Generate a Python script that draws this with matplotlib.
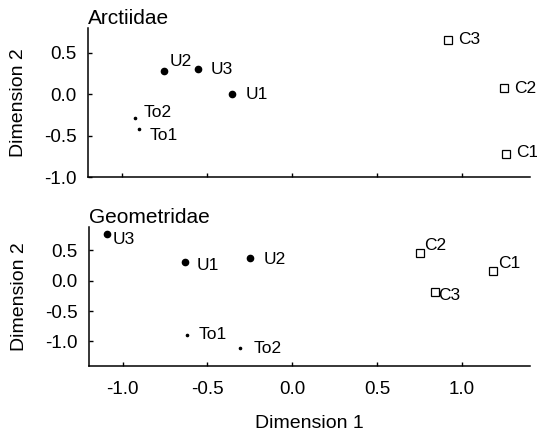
import matplotlib
matplotlib.use("Agg")
import matplotlib.pyplot as plt

plt.rcParams['font.family'] = ['Liberation Sans', 'DejaVu Sans']

# Arctiidae
arc_names = ["U2", "U3", "U1", "To2", "To1", "C3", "C2", "C1"]
arc_x = [-0.75, -0.55, -0.35, -0.92, -0.90, 0.92, 1.25, 1.26]
arc_y = [0.28, 0.30, 0.00, -0.29, -0.42, 0.66, 0.07, -0.72]

# Geometridae
geo_names = ["U3", "U1", "U2", "To1", "To2", "C2", "C1", "C3"]
geo_x = [-1.09, -0.63, -0.25, -0.62, -0.31, 0.75, 1.18, 0.84]
geo_y = [0.77, 0.31, 0.37, -0.90, -1.10, 0.46, 0.16, -0.19]

# label offsets in points (dx, dy)
arc_off = [(4, 7), (9, 0), (10, 0), (6, 4), (8, -5), (7, 0), (7, 0), (7, 1)]
geo_off = [(4, -4), (8, -3), (10, -1), (8, 1), (10, -1), (3, 5), (4, 5), (2, -2)]

x_ticks = [-1.0, -0.5, 0.0, 0.5, 1.0]
y_ticks = [-1.0, -0.5, 0.0, 0.5]


def group_style(name):
    if name.startswith("U"):
        return dict(marker="o", ms=4.5, mfc="black", mec="black")
    if name.startswith("To"):
        return dict(marker="o", ms=1.6, mfc="black", mec="black")
    return dict(marker="s", ms=6, mfc="none", mec="black", mew=0.9)


def draw_panel(ax, names, xs, ys, offs, title):
    for n, x, y, off in zip(names, xs, ys, offs):
        ax.plot(x, y, linestyle="none", **group_style(n))
        ax.annotate(n, (x, y), xytext=off, textcoords="offset points",
                    fontsize=12.5, va="center", ha="left", annotation_clip=False)
    ax.spines["top"].set_visible(False)
    ax.spines["right"].set_visible(False)
    ax.spines["left"].set_linewidth(1.1)
    ax.spines["bottom"].set_linewidth(1.1)
    ax.tick_params(direction="in", length=3, width=1.0, labelsize=13.5)
    ax.tick_params(axis="y", pad=8)
    ax.tick_params(axis="x", pad=11)
    ax.set_ylabel("Dimension 2", fontsize=14, labelpad=12)
    ax.set_title(title, loc="left", fontsize=15, pad=3)
    ax.set_xlim(-1.2, 1.4)
    ax.set_xticks(x_ticks)
    ax.set_yticks(y_ticks)
    ax.set_yticklabels(["%.1f" % v for v in y_ticks])


fig = plt.figure(figsize=(5.37, 4.36), dpi=100)
ax1 = fig.add_axes([0.163, 0.594, 0.824, 0.342])
ax2 = fig.add_axes([0.165, 0.161, 0.822, 0.318])

draw_panel(ax1, arc_names, arc_x, arc_y, arc_off, "Arctiidae")
ax1.set_ylim(-1.0, 0.8)
ax1.set_xticklabels([])

draw_panel(ax2, geo_names, geo_x, geo_y, geo_off, "Geometridae")
ax2.set_ylim(-1.4, 0.88)
ax2.set_xticklabels(["%.1f" % v for v in x_ticks])
ax2.set_xlabel("Dimension 1", fontsize=14, labelpad=12)

fig.savefig("out.png", dpi=100)
